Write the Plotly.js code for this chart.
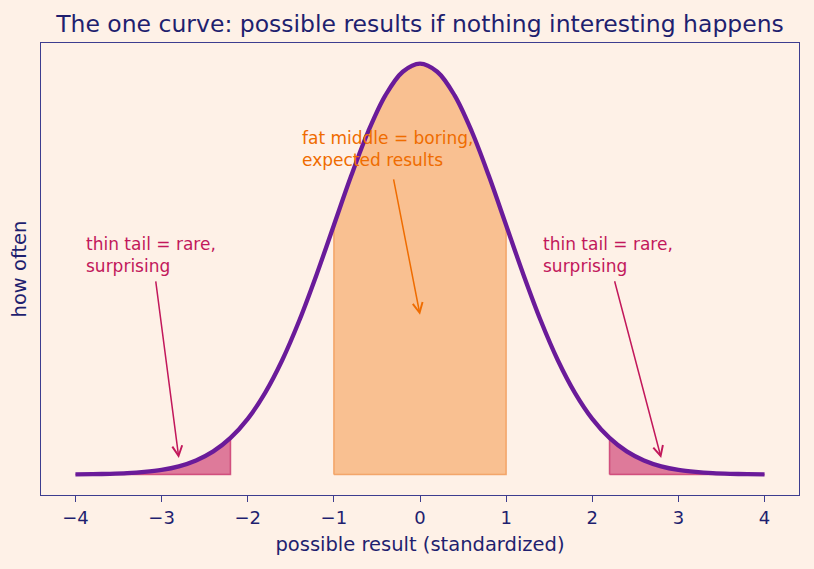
<!DOCTYPE html>
<html>
<head>
<meta charset="utf-8">
<script src="https://cdn.plot.ly/plotly-3.0.1.min.js"></script>
<style>
  html, body { margin: 0; padding: 0; background: #fef1e7; }
  #chart { width: 814px; height: 569px; }
</style>
</head>
<body>
<div id="chart"></div>
<script>
// Bell curve heights, sampled every 0.2 from -4 to 4
const resultX = [
  -4.0, -3.8, -3.6, -3.4, -3.2, -3.0, -2.8, -2.6, -2.4, -2.2,
  -2.0, -1.8, -1.6, -1.4, -1.2, -1.0, -0.8, -0.6, -0.4, -0.2,
   0.0,
   0.2,  0.4,  0.6,  0.8,  1.0,  1.2,  1.4,  1.6,  1.8,  2.0,
   2.2,  2.4,  2.6,  2.8,  3.0,  3.2,  3.4,  3.6,  3.8,  4.0
];
const howOften = [
  0.0001, 0.0003, 0.0006, 0.0012, 0.0024, 0.0044, 0.0079, 0.0136, 0.0224, 0.0355,
  0.0540, 0.0790, 0.1109, 0.1497, 0.1942, 0.2420, 0.2897, 0.3332, 0.3683, 0.3910,
  0.3989,
  0.3910, 0.3683, 0.3332, 0.2897, 0.2420, 0.1942, 0.1497, 0.1109, 0.0790, 0.0540,
  0.0355, 0.0224, 0.0136, 0.0079, 0.0044, 0.0024, 0.0012, 0.0006, 0.0003, 0.0001
];

// Shaded bands: [from, to]
const middleBand = [-1.0, 1.0];
const leftTail = [-4.0, -2.2];
const rightTail = [2.2, 4.0];

const xTicks = [-4, -3, -2, -1, 0, 1, 2, 3, 4];

const NAVY = '#1f1f6f';
const AXIS = '#3d3d8f';
const PURPLE = '#6a1b9a';
const CRIMSON = '#c2185b';
const ORANGE = '#ef6c00';
const BG = '#fef1e7';
const FONT = 'DejaVu Sans, sans-serif';

// Closed polygon under the curve between two x values
function band(range) {
  const xs = [], ys = [];
  resultX.forEach((x, i) => {
    if (x >= range[0] - 1e-9 && x <= range[1] + 1e-9) { xs.push(x); ys.push(howOften[i]); }
  });
  return {
    x: [range[0]].concat(xs, [range[1], range[0]]),
    y: [0].concat(ys, [0, 0])
  };
}

const mid = band(middleBand);
const lt = band(leftTail);
const rt = band(rightTail);

const traces = [
  {
    x: mid.x, y: mid.y, type: 'scatter', mode: 'lines', fill: 'toself',
    fillcolor: 'rgba(246,162,92,0.62)',
    line: { color: 'rgba(240,150,80,0.75)', width: 1.5 },
    hoverinfo: 'skip', showlegend: false
  },
  {
    x: lt.x, y: lt.y, type: 'scatter', mode: 'lines', fill: 'toself',
    fillcolor: 'rgba(194,24,91,0.55)',
    line: { color: 'rgba(194,24,91,0.65)', width: 1.5 },
    hoverinfo: 'skip', showlegend: false
  },
  {
    x: rt.x, y: rt.y, type: 'scatter', mode: 'lines', fill: 'toself',
    fillcolor: 'rgba(194,24,91,0.55)',
    line: { color: 'rgba(194,24,91,0.65)', width: 1.5 },
    hoverinfo: 'skip', showlegend: false
  },
  {
    x: resultX, y: howOften, type: 'scatter', mode: 'lines',
    line: { color: PURPLE, width: 4.3, shape: 'spline', smoothing: 1 },
    showlegend: false
  }
];

function note(text, x, y, color) {
  return {
    text: text, x: x, y: y, xref: 'x', yref: 'y',
    xanchor: 'left', yanchor: 'top', align: 'left', showarrow: false,
    font: { family: FONT, size: 17, color: color }
  };
}
function arrow(x, y, ax, ay, color) {
  return {
    text: '', x: x, y: y, ax: ax, ay: ay,
    xref: 'x', yref: 'y', axref: 'x', ayref: 'y',
    showarrow: true, arrowhead: 5, arrowsize: 1.3, arrowwidth: 1.5,
    arrowcolor: color, standoff: 0, startstandoff: 0
  };
}

const layout = {
  width: 814, height: 569,
  paper_bgcolor: BG, plot_bgcolor: BG,
  margin: { l: 41, r: 15, t: 43, b: 74 },
  font: { family: FONT, color: NAVY },
  title: {
    text: 'The one curve: possible results if nothing interesting happens',
    font: { family: FONT, size: 23.5, color: NAVY },
    x: 0.5, xref: 'paper', xanchor: 'center', y: 0.958, yanchor: 'middle'
  },
  xaxis: {
    range: [-4.4, 4.4], tickvals: xTicks, ticktext: xTicks.map(v => v < 0 ? '\u2212' + Math.abs(v) : String(v)),
    ticks: 'outside', ticklen: 6, tickwidth: 1.2, tickcolor: AXIS,
    showline: true, linecolor: AXIS, linewidth: 1.3, mirror: true,
    showgrid: false, zeroline: false,
    tickfont: { family: FONT, size: 18, color: NAVY },
    title: { text: 'possible result (standardized)', font: { family: FONT, size: 19.5, color: NAVY }, standoff: 10 }
  },
  yaxis: {
    range: [-0.01995, 0.4189],
    showticklabels: false, ticks: '',
    showline: true, linecolor: AXIS, linewidth: 1.3, mirror: true,
    showgrid: false, zeroline: false,
    title: { text: 'how often', font: { family: FONT, size: 19.5, color: NAVY }, standoff: 8 }
  },
  annotations: [
    note('thin tail = rare,<br>surprising', -3.9, 0.235, CRIMSON),
    note('thin tail = rare,<br>surprising', 1.4, 0.235, CRIMSON),
    note('fat middle = boring,<br>expected results', -1.39, 0.338, ORANGE),
    arrow(-2.8, 0.016, -3.07, 0.189, CRIMSON),
    arrow(2.8, 0.016, 2.255, 0.189, CRIMSON),
    arrow(0.0, 0.155, -0.31, 0.288, ORANGE)
  ]
};

Plotly.newPlot('chart', traces, layout, { displayModeBar: false, responsive: false });
</script>
</body>
</html>
